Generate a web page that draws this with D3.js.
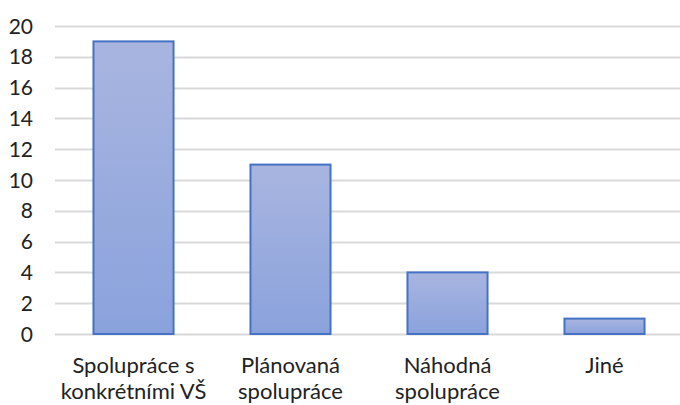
<!DOCTYPE html>
<html lang="cs">
<head>
    <meta charset="UTF-8">
    <title>Spolupráce</title>
    <style>
        body { margin: 0; background: #fff; }
        svg { display: block; font-family: Lato, "Open Sans", sans-serif; }
    </style>
</head>
<body>
    <svg id="chart" width="680" height="405"></svg>
    <script src="https://d3js.org/d3.v7.min.js"></script>
    <script>
        // data
        const categories = [["Spolupráce s", "konkrétními VŠ"], ["Plánovaná", "spolupráce"], ["Náhodná", "spolupráce"], ["Jiné"]];
        const values = [19, 11, 4, 1];
        const yTicks = [0, 2, 4, 6, 8, 10, 12, 14, 16, 18, 20];

        const svg = d3.select("#chart");
        const plotLeft = 55, plotRight = 683, plotTop = 26, plotBottom = 334;

        const x = d3.scaleBand()
            .domain(d3.range(categories.length))
            .range([plotLeft, plotRight])
            .paddingInner(0.49)
            .paddingOuter(0.245);

        const y = d3.scaleLinear().domain([0, 20]).range([plotBottom, plotTop]);

        const grad = svg.append("defs").append("linearGradient")
            .attr("id", "barFill").attr("x1", 0).attr("y1", 0).attr("x2", 0).attr("y2", 1);
        grad.append("stop").attr("offset", "0%").attr("stop-color", "#a9b5e0");
        grad.append("stop").attr("offset", "100%").attr("stop-color", "#8aa2dc");

        // gridlines
        svg.append("g").selectAll("line")
            .data(yTicks)
            .join("line")
            .attr("x1", plotLeft).attr("x2", 680)
            .attr("y1", d => Math.round(y(d)) + 0.5)
            .attr("y2", d => Math.round(y(d)) + 0.5)
            .attr("stroke", "#d9d9d9")
            .attr("stroke-width", 2);

        // y labels
        svg.append("g").selectAll("text")
            .data(yTicks)
            .join("text")
            .attr("x", 33)
            .attr("y", d => y(d))
            .attr("dy", "0.36em")
            .attr("text-anchor", "end")
            .attr("font-size", 21)
            .attr("fill", "#222")
            .text(d => d);

        // bars
        svg.append("g").selectAll("rect")
            .data(values)
            .join("rect")
            .attr("x", (d, i) => x(i))
            .attr("y", d => y(d))
            .attr("width", x.bandwidth())
            .attr("height", d => y(0) - y(d))
            .attr("fill", "url(#barFill)")
            .attr("stroke", "#4472c4")
            .attr("stroke-width", 2);

        // category labels
        const cat = svg.append("g").selectAll("text")
            .data(categories)
            .join("text")
            .attr("x", (d, i) => x(i) + x.bandwidth() / 2)
            .attr("y", 373)
            .attr("text-anchor", "middle")
            .attr("font-size", 22)
            .attr("fill", "#222");
        cat.selectAll("tspan")
            .data(d => d)
            .join("tspan")
            .attr("x", function () { return d3.select(this.parentNode).attr("x"); })
            .attr("dy", (d, i) => i === 0 ? 0 : 26)
            .text(d => d);
    </script>
</body>
</html>
